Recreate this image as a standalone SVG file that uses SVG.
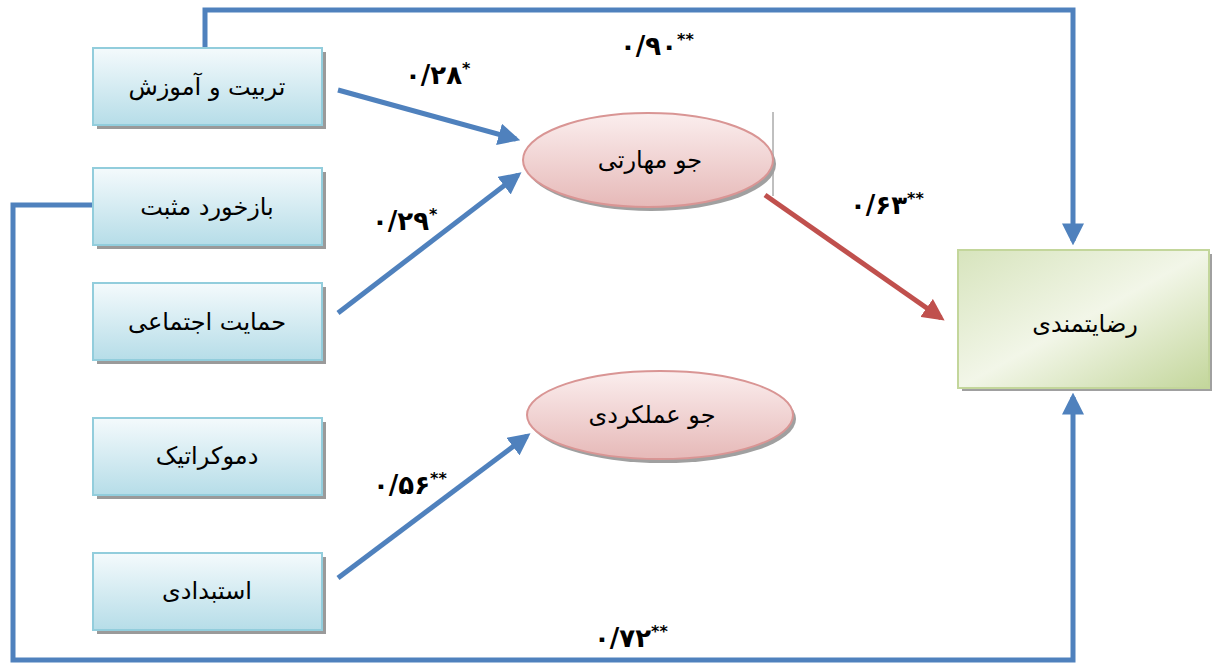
<svg xmlns="http://www.w3.org/2000/svg" width="1212" height="663" viewBox="0 0 1212 663">
<style>
.box{fill:url(#gBlue);stroke:#92cddc;stroke-width:2}
.shadow{fill:#9a9a9a}
.ell{fill:url(#gRed);stroke:#d99594;stroke-width:2}
.lbl{font-family:"DejaVu Serif","DejaVu Sans",serif;font-size:24px;fill:#000;text-anchor:middle;direction:rtl}
.num{font-family:"DejaVu Sans",sans-serif;font-size:26px;font-weight:bold;fill:#000}
.ast{font-size:16px}
.conn{fill:none;stroke:#4f81bd;stroke-width:5}
</style>
<defs>
<linearGradient id="gBlue" x1="0" y1="0" x2="0" y2="1">
<stop offset="0" stop-color="#f4fafc"/><stop offset="1" stop-color="#b6dde8"/>
</linearGradient>
<linearGradient id="gRed" x1="0" y1="0" x2="0" y2="1">
<stop offset="0" stop-color="#fbeeee"/><stop offset="1" stop-color="#e6b9b8"/>
</linearGradient>
<linearGradient id="gGreen" x1="0" y1="0" x2="1" y2="1">
<stop offset="0" stop-color="#d7e4bd"/><stop offset="0.5" stop-color="#f2f6e8"/><stop offset="1" stop-color="#c3d69b"/>
</linearGradient>
<marker id="aBlue" viewBox="0 0 10 10" refX="8" refY="5" markerWidth="4.4" markerHeight="4.4" orient="auto" markerUnits="strokeWidth">
<path d="M0,0 L10,5 L0,10 Z" fill="#4f81bd"/>
</marker>
<marker id="aRed" viewBox="0 0 10 10" refX="8" refY="5" markerWidth="4.4" markerHeight="4.4" orient="auto" markerUnits="strokeWidth">
<path d="M0,0 L10,5 L0,10 Z" fill="#c0504d"/>
</marker>
</defs>
<rect width="1212" height="663" fill="#fff"/>

<g id="connectors">
<polyline class="conn" points="205,48 205,10 1073,10 1073,241" marker-end="url(#aBlue)"/>
<polyline class="conn" points="93,205 13,205 13,660 1073,660 1073,397" marker-end="url(#aBlue)"/>
<line class="conn" x1="338" y1="90" x2="516" y2="139" marker-end="url(#aBlue)"/>
<line class="conn" x1="338" y1="313" x2="518" y2="175" marker-end="url(#aBlue)"/>
<line class="conn" x1="338" y1="578" x2="527" y2="436" marker-end="url(#aBlue)"/>
<line x1="765" y1="195" x2="941" y2="318" stroke="#c0504d" stroke-width="5" marker-end="url(#aRed)"/>
<line x1="773" y1="112" x2="773" y2="196" stroke="#808080" stroke-width="1"/>
</g>

<g id="labels">
<text class="num" x="620" y="55">۰/۹۰<tspan class="ast" dy="-10">**</tspan></text>
<text class="num" x="405" y="84">۰/۲۸<tspan class="ast" dy="-10">*</tspan></text>
<text class="num" x="372" y="230">۰/۲۹<tspan class="ast" dy="-10">*</tspan></text>
<text class="num" x="850" y="214">۰/۶۳<tspan class="ast" dy="-10">**</tspan></text>
<text class="num" x="373" y="494">۰/۵۶<tspan class="ast" dy="-10">**</tspan></text>
<text class="num" x="594" y="647">۰/۷۲<tspan class="ast" dy="-10">**</tspan></text>
</g>

<g id="n1"><rect class="shadow" x="97" y="52" width="229" height="77"/><rect class="box" x="93" y="48" width="229" height="77"/><text class="lbl" x="207" y="95">تربیت و آموزش</text></g>
<g id="n2"><rect class="shadow" x="97" y="172" width="229" height="77"/><rect class="box" x="93" y="168" width="229" height="77"/><text class="lbl" x="207" y="215">بازخورد مثبت</text></g>
<g id="n3"><rect class="shadow" x="97" y="287" width="229" height="77"/><rect class="box" x="93" y="283" width="229" height="77"/><text class="lbl" x="207" y="330">حمایت اجتماعی</text></g>
<g id="n4"><rect class="shadow" x="97" y="422" width="229" height="77"/><rect class="box" x="93" y="418" width="229" height="77"/><text class="lbl" x="207" y="464">دموکراتیک</text></g>
<g id="n5"><rect class="shadow" x="97" y="557" width="229" height="77"/><rect class="box" x="93" y="553" width="229" height="77"/><text class="lbl" x="207" y="599">استبدادی</text></g>

<g id="e1"><ellipse cx="651" cy="164" rx="125" ry="47" fill="#a0a0a0"/><ellipse class="ell" cx="648" cy="160" rx="125" ry="47"/><text class="lbl" x="650" y="168">جو مهارتی</text></g>
<g id="e2"><ellipse cx="663" cy="419" rx="133" ry="44" fill="#a0a0a0"/><ellipse class="ell" cx="660" cy="415" rx="133" ry="44"/><text class="lbl" x="652" y="423">جو عملکردی</text></g>

<g id="r1"><rect x="962" y="254" width="250" height="137" fill="#a0a0a0"/><rect x="958" y="250" width="251" height="138" fill="url(#gGreen)" stroke="#c3d69b" stroke-width="2"/><text class="lbl" x="1085" y="332">رضایتمندی</text></g>
</svg>
